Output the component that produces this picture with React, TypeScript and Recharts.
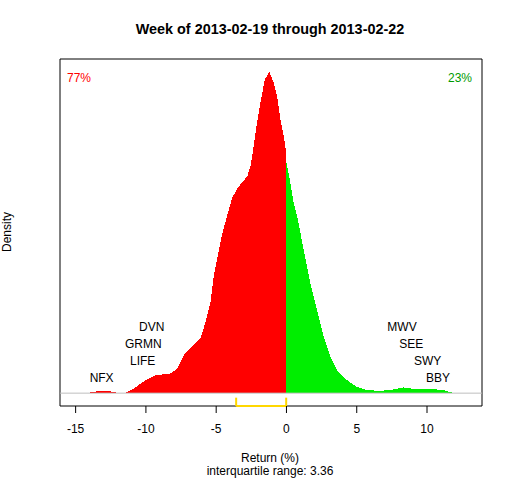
// Density of weekly returns, split at zero into losers (red) and winners (green).

import { ComposedChart, Area, Scatter, XAxis, YAxis, ReferenceLine, ReferenceArea } from 'recharts';

const FONT = '"Liberation Sans", Arial, sans-serif';

// kernel density, negative side (x in %, density)
const negX = [
  -15.0, -14.5, -14.06, -13.6, -13.2, -12.6, -12.1, -11.8, -11.43, -11.31, -10.85, -10.37, -9.66, -9.3, -9.18,
  -8.24, -7.76, -7.29, -6.82, -6.11, -5.75, -5.4, -5.16, -4.92, -4.69, -4.4, -4.1, -3.86, -3.62, -3.39, -3.03,
  -2.79, -2.56, -2.37, -2.13, -1.85, -1.54, -1.21, -0.9, -0.66, -0.43, -0.19, -0.07, 0,
];
const negDensity = [
  0, 0, 0.0003, 0.001, 0.0014, 0.0012, 0.0003, 0, 0.0002, 0.0008, 0.0029, 0.0061, 0.0098, 0.0113, 0.0113,
  0.0123, 0.0154, 0.0238, 0.0279, 0.0342, 0.0446, 0.0571, 0.0738, 0.0842, 0.0946, 0.105, 0.1144, 0.1217, 0.1258,
  0.1289, 0.1327, 0.1352, 0.1414, 0.1519, 0.1664, 0.1811, 0.1956, 0.2004, 0.1936, 0.1852, 0.1706, 0.1602, 0.1529,
  0.1488,
];

// kernel density, positive side
const posX = [
  0, 0.28, 0.52, 0.76, 1.23, 1.7, 2.18, 2.65, 3.13, 3.6, 4.31, 5.02, 5.73, 6.68, 7.62, 8.33, 9.04, 10.46, 11.17,
  11.77, 12.0, 12.8,
];
const posDensity = [
  0.1436, 0.1311, 0.1186, 0.1102, 0.0894, 0.0686, 0.0519, 0.0352, 0.0227, 0.0144, 0.0081, 0.0039, 0.0019, 0.0014,
  0.0023, 0.0036, 0.0027, 0.0025, 0.0019, 0.0004, 0, 0,
];

const xTicks = [-15, -10, -5, 0, 5, 10];

// labelled outliers, stacked bottom-up
const loserNames = ['NFX', 'LIFE', 'GRMN', 'DVN'];
const loserReturns = [-13.15, -10.23, -10.18, -9.59];
const winnerNames = ['BBY', 'SWY', 'SEE', 'MWV'];
const winnerReturns = [10.78, 10.04, 8.88, 8.22];

const quartiles = [-3.58, -0.02];
const iqr = 3.36;
const pctDown = '77%';
const pctUp = '23%';

type Row = { x: number; red?: number; green?: number };

const rows: Row[] = [
  ...negX.map((x, i) => ({ x, red: negDensity[i] })),
  ...posX.map((x, i) => ({ x, green: posDensity[i] })),
];

const allX = [...negX, ...posX];
const xLo = Math.min(...allX);
const xHi = Math.max(...allX);
const xPad = (xHi - xLo) * 0.04;
const xDomain: [number, number] = [xLo - xPad, xHi + xPad];
const yMax = Math.max(...negDensity, ...posDensity);
const yDomain: [number, number] = [-0.04 * yMax, 1.04 * yMax];

// label rows sit just above the baseline
const rowBase = yMax * 0.047;
const rowStep = yMax * 0.053;
const labelPoints = [
  ...loserNames.map((name, i) => ({ x: loserReturns[i], y: rowBase + rowStep * i, name })),
  ...winnerNames.map((name, i) => ({ x: winnerReturns[i], y: rowBase + rowStep * i, name })),
];

const bracketH = (yDomain[1] - yDomain[0]) * 0.024;

const W = 512;
const H = 480;

function LabelText(props: any) {
  const { cx, cy, payload } = props;
  return (
    <text x={cx} y={cy} dy="0.35em" textAnchor="middle" fontSize={12} fontFamily={FONT} fill="#000">
      {payload.name}
    </text>
  );
}

export default function App() {
  return (
    <div style={{ position: 'absolute', left: 0, top: 0, width: W, height: H, background: '#fff' }}>
      <ComposedChart width={W} height={H} data={rows} margin={{ top: 59, right: 30, bottom: 44, left: 60 }}>
        <XAxis
          dataKey="x"
          type="number"
          domain={xDomain}
          ticks={xTicks}
          allowDataOverflow
          height={30}
          tickSize={7}
          tickMargin={11}
          axisLine={false}
          tickLine={{ stroke: '#000' }}
          tick={{ fill: '#000', fontSize: 12, fontFamily: FONT }}
        />
        <YAxis domain={yDomain} hide allowDataOverflow />
        <ReferenceArea x1={xDomain[0]} x2={xDomain[1]} y1={yDomain[0]} y2={yDomain[1]} fill="none" stroke="#000" strokeWidth={1} ifOverflow="visible" />
        <Area dataKey="red" type="linear" stroke="none" fill="#ff0000" fillOpacity={1} baseValue={0} shapeRendering="crispEdges" isAnimationActive={false} />
        <Area dataKey="green" type="linear" stroke="none" fill="#00ee00" fillOpacity={1} baseValue={0} shapeRendering="crispEdges" isAnimationActive={false} />
        <ReferenceLine y={0} stroke="#bebebe" strokeWidth={1} />
        <ReferenceLine
          segment={[
            { x: quartiles[0], y: yDomain[0] + bracketH },
            { x: quartiles[0], y: yDomain[0] },
          ]}
          stroke="#ffd700"
          strokeWidth={2}
          ifOverflow="visible"
        />
        <ReferenceLine
          segment={[
            { x: quartiles[0], y: yDomain[0] },
            { x: quartiles[1], y: yDomain[0] },
          ]}
          stroke="#ffd700"
          strokeWidth={2}
          ifOverflow="visible"
        />
        <ReferenceLine
          segment={[
            { x: quartiles[1], y: yDomain[0] },
            { x: quartiles[1], y: yDomain[0] + bracketH },
          ]}
          stroke="#ffd700"
          strokeWidth={2}
          ifOverflow="visible"
        />
        <Scatter data={labelPoints} dataKey="y" shape={LabelText} isAnimationActive={false} />
        <text x={270} y={34} textAnchor="middle" fontSize={14.4} fontWeight="bold" fontFamily={FONT} fill="#000">
          Week of 2013-02-19 through 2013-02-22
        </text>
        <text x={67} y={82} fontSize={12} fontFamily={FONT} fill="#ff0000">
          {pctDown}
        </text>
        <text x={472} y={82} textAnchor="end" fontSize={12} fontFamily={FONT} fill="#009a00">
          {pctUp}
        </text>
        <text x={11} y={232} transform="rotate(-90 11 232)" textAnchor="middle" fontSize={12} fontFamily={FONT} fill="#000">
          Density
        </text>
        <text x={270} y={462} textAnchor="middle" fontSize={12} fontFamily={FONT} fill="#000">
          Return (%)
        </text>
        <text x={270} y={475} textAnchor="middle" fontSize={12} fontFamily={FONT} fill="#000">
          {`interquartile range: ${iqr}`}
        </text>
      </ComposedChart>
    </div>
  );
}
